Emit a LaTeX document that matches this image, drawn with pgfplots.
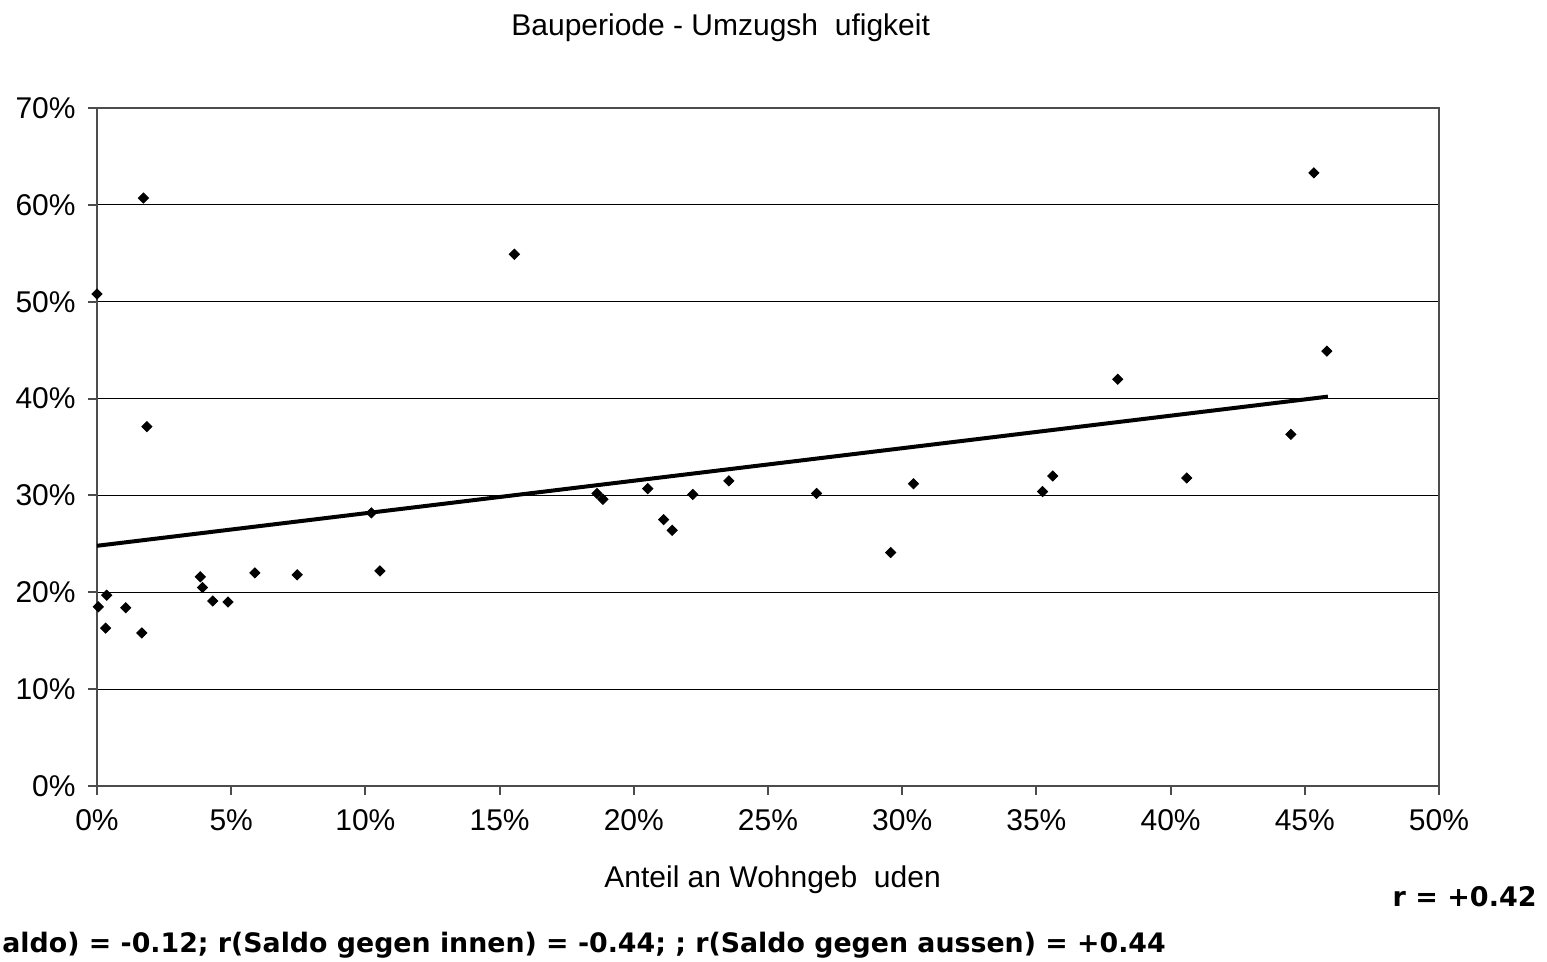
\documentclass[border=0pt]{standalone}
\usepackage{pgfplots}
\pgfplotsset{compat=1.18}
\usepackage{fontspec}
\setmainfont{Liberation Sans}
\newfontfamily\dvfont{DejaVu Sans}
\begin{document}
\begin{tikzpicture}
\useasboundingbox (-48.5pt,-88pt) rectangle (725pt,393pt);
\begin{axis}[
  at={(0pt,0pt)}, anchor=south west,
  scale only axis, width=671pt, height=339pt,
  xmin=0, xmax=50, ymin=0, ymax=70,
  xtick={0,5,...,50}, ytick={0,10,...,70},
  xticklabels={0\%,5\%,10\%,15\%,20\%,25\%,30\%,35\%,40\%,45\%,50\%},
  yticklabels={0\%,10\%,20\%,30\%,40\%,50\%,60\%,70\%},
  tick align=outside, xtick pos=bottom, ytick pos=left, major tick length=4.5pt,
  ymajorgrids, grid style={black, line width=0.5pt},
  axis line style={gray!60!black, line width=1pt},
  tick style={gray!60!black, line width=1pt},
  xticklabel style={font=\fontsize{15}{18}\selectfont, anchor=north, inner sep=0pt, yshift=-7pt},
  yticklabel style={font=\fontsize{15}{18}\selectfont, anchor=east, inner sep=0pt, xshift=-6pt},
  clip=false,
]
\addplot[only marks, mark=square*, mark size=1.8pt, mark options={rotate=45, fill=black, draw=black}] coordinates {
(0,50.8) (0.05,18.5) (0.36,19.7) (0.32,16.3) (1.07,18.4) (1.67,15.8)
(1.73,60.7) (1.86,37.1) (3.85,21.6) (3.93,20.5) (4.31,19.1) (4.88,19.0)
(5.88,22.0) (7.46,21.8) (10.54,22.2) (10.22,28.2) (15.55,54.9)
(18.63,30.2) (18.85,29.6) (20.52,30.7) (21.11,27.5) (21.43,26.4)
(22.20,30.1) (23.54,31.5) (26.81,30.2) (29.57,24.1) (30.42,31.2)
(35.23,30.4) (35.61,32.0) (38.03,42.0) (40.6,31.8) (44.48,36.3)
(45.34,63.3) (45.82,44.9)
};
\addplot[black, line width=2pt, no marks] coordinates {(0,24.8) (45.86,40.2)};
\end{axis}
\node[anchor=base west, inner sep=0pt, font=\fontsize{15}{18}\selectfont] at (207pt,375pt) {Bauperiode - Umzugsh\phantom{ä}ufigkeit};
\node[anchor=base west, inner sep=0pt, font=\fontsize{15}{18}\selectfont] at (253.5pt,-51pt) {Anteil an Wohngeb\phantom{ä}uden};
\node[anchor=base east, inner sep=0pt, font=\dvfont\bfseries\fontsize{13.5}{16}\selectfont] at (720pt,-60.5pt) {r = +0.42};
\node[anchor=base west, inner sep=0pt, font=\dvfont\bfseries\fontsize{13.4}{16}\selectfont] at (-47.5pt,-83.5pt) {aldo) = -0.12; r(Saldo gegen innen) = -0.44; ; r(Saldo gegen aussen) = +0.44};
\end{tikzpicture}
\end{document}
